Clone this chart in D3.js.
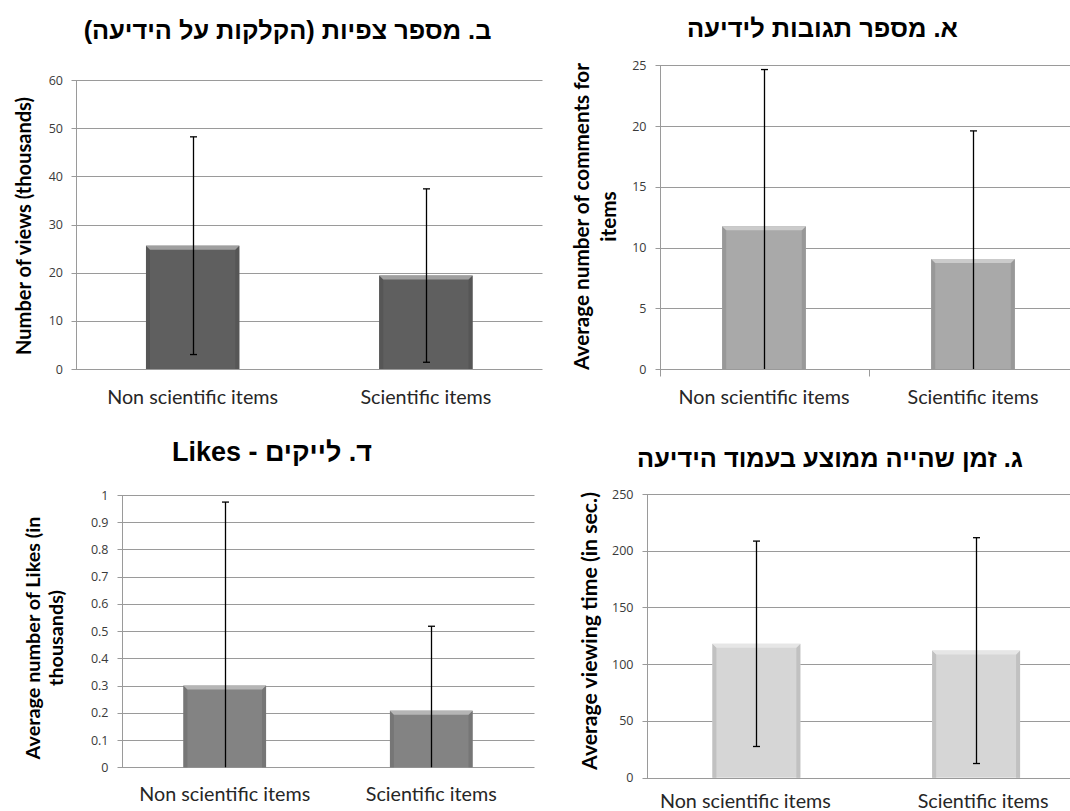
<!DOCTYPE html>
<html><head><meta charset="utf-8">
<script src="https://cdn.jsdelivr.net/npm/d3@7"></script>
<style>body{margin:0;background:#fff} svg{display:block}</style>
</head><body>
<svg id="c" width="1070" height="811"></svg>
<script>
// ---------- data ----------
const categories = ["Non scientific items", "Scientific items"];
const viewsMean = [25.6, 19.4];
const viewsErr = [22.6, 18.0];
const commentsMean = [11.75, 9.05];
const commentsErr = [12.9, 10.55];
const likesMean = [0.30, 0.208];
const likesErr = [0.674, 0.31];
const timeMean = [118, 112];
const timeErr = [90.5, 99.5];
const viewsTicks = [0, 10, 20, 30, 40, 50, 60];
const commentsTicks = [0, 5, 10, 15, 20, 25];
const likesTicks = [0, 0.1, 0.2, 0.3, 0.4, 0.5, 0.6, 0.7, 0.8, 0.9, 1];
const timeTicks = [0, 50, 100, 150, 200, 250];
const titleViews = "ב. מספר צפיות (הקלקות על הידיעה)";
const titleComments = "א. מספר תגובות לידיעה";
const titleLikes = "ד. לייקים - Likes";
const titleTime = "ג. זמן שהייה ממוצע בעמוד הידיעה";
const yTitleViews = ["Number of views (thousands)"];
const yTitleComments = ["Average number of comments for", "items"];
const yTitleLikes = ["Average number of Likes (in", "thousands)"];
const yTitleTime = ["Average viewing time (in sec.)"];

// ---------- layout ----------
const svg = d3.select("#c");
const LATIN = "Lato, 'Open Sans', 'Liberation Sans', sans-serif";
const TICKF = "'Open Sans', Lato, sans-serif";
const HEB = "'Liberation Sans', 'DejaVu Sans', Arial, sans-serif";

function fit(sel, target, base) {
  sel.attr("font-size", base);
  const w = sel.node().getComputedTextLength();
  const s = base * target / w;
  sel.attr("font-size", s);
  return s;
}

const panels = [
  { mean: viewsMean, err: viewsErr, ticks: viewsTicks, yMax: 60, fmt: d3.format("d"),
    color: "#5f5f5f", left: 76, right: 542.5, gridRight: 542.5, yTop: 80, yBottom: 369,
    title: titleViews, titleX: 287.5, titleY: 39, titleW: 408,
    yTitle: yTitleViews, yTitleX: [31], yTitleCY: 226, yTitleW: 258,
    labelY: 404, labelW: 171, labelDx: [0, 0], xTicks: false },
  { mean: commentsMean, err: commentsErr, ticks: commentsTicks, yMax: 25, fmt: d3.format("d"),
    color: "#a9a9a9", left: 659.5, right: 1077.5, gridRight: 1070, yTop: 65.3, yBottom: 369,
    title: titleComments, titleX: 822.5, titleY: 37, titleW: 271,
    yTitle: yTitleComments, yTitleX: [589, 616], yTitleCY: 216.5, yTitleW: 307,
    labelY: 404, labelW: 171, labelDx: [0, 0], xTicks: true },
  { mean: likesMean, err: likesErr, ticks: likesTicks, yMax: 1, fmt: d => d3.format("")(+d.toFixed(1)),
    color: "#838383", left: 121.5, right: 534.5, gridRight: 534.5, yTop: 495, yBottom: 767.3,
    title: titleLikes, titleX: 272, titleY: 460.7, titleW: 200,
    yTitle: yTitleLikes, yTitleX: [40, 63], yTitleCY: 638, yTitleW: 243,
    labelY: 801, labelW: 171, labelDx: [0, 0], xTicks: false },
  { mean: timeMean, err: timeErr, ticks: timeTicks, yMax: 250, fmt: d3.format("d"),
    color: "#d6d6d6", left: 646.5, right: 1086, gridRight: 1070, yTop: 494, yBottom: 777.7,
    title: titleTime, titleX: 830, titleY: 466.7, titleW: 386,
    yTitle: yTitleTime, yTitleX: [597], yTitleCY: 631, yTitleW: 278,
    labelY: 807.5, labelW: 171, labelDx: [-11, 7], xTicks: false }
];

function bevelBar(g, x0, y0, w, h, color) {
  const light = d3.interpolateRgb(color, "#ffffff")(0.4);
  const dark = d3.interpolateRgb(color, "#000000")(0.1);
  const b = Math.min(4, h / 2);
  g.append("rect").attr("x", x0).attr("y", y0).attr("width", w).attr("height", h).attr("fill", color);
  g.append("polygon").attr("fill", dark)
    .attr("points", [[x0, y0], [x0 + b, y0 + b], [x0 + b, y0 + h], [x0, y0 + h]].join(" "));
  g.append("polygon").attr("fill", dark)
    .attr("points", [[x0 + w, y0], [x0 + w - b, y0 + b], [x0 + w - b, y0 + h], [x0 + w, y0 + h]].join(" "));
  g.append("polygon").attr("fill", light)
    .attr("points", [[x0, y0], [x0 + w, y0], [x0 + w - b, y0 + b], [x0 + b, y0 + b]].join(" "));
}

panels.forEach(p => {
  const g = svg.append("g");
  const x = d3.scaleBand().domain(categories).range([p.left, p.right]).paddingInner(0.6).paddingOuter(0.3);
  const y = d3.scaleLinear().domain([0, p.yMax]).range([p.yBottom, p.yTop]);
  const L = Math.round(p.left) + 0.5;

  // grid lines
  g.selectAll("line.grid").data(p.ticks).join("line")
    .attr("x1", L - 5).attr("x2", p.gridRight)
    .attr("y1", d => Math.round(y(d)) + 0.5).attr("y2", d => Math.round(y(d)) + 0.5)
    .attr("stroke", "#9a9a9a").attr("stroke-width", 1);
  // y axis line
  g.append("line").attr("x1", L).attr("x2", L)
    .attr("y1", Math.round(y(p.yMax)) + 0.5).attr("y2", Math.round(y(0)) + 0.5 + (p.xTicks ? 7 : 0))
    .attr("stroke", "#9a9a9a");
  if (p.xTicks) {
    const mid = Math.round((x(categories[0]) + x.bandwidth() + x(categories[1])) / 2) + 0.5;
    g.append("line").attr("x1", mid).attr("x2", mid)
      .attr("y1", Math.round(y(0)) + 0.5).attr("y2", Math.round(y(0)) + 7.5).attr("stroke", "#9a9a9a");
  }
  // tick labels via axis
  const ax = g.append("g").attr("transform", `translate(${p.left},0)`)
    .call(d3.axisLeft(y).tickValues(p.ticks).tickFormat(p.fmt).tickSize(0).tickPadding(13));
  ax.select(".domain").remove();
  ax.selectAll("text").attr("font-family", TICKF).attr("font-size", 12.5).attr("fill", "#3a3a3a");

  // bars
  p.mean.forEach((m, i) => {
    const bx = x(categories[i]);
    const top = y(m), h = y(0) - top;
    bevelBar(g, bx, top, x.bandwidth(), h, p.color);
  });
  // error bars
  p.mean.forEach((m, i) => {
    const cx = Math.round(x(categories[i]) + x.bandwidth() / 2) + 0.5;
    const hi = m + p.err[i], lo = Math.max(0, m - p.err[i]);
    g.append("line").attr("x1", cx).attr("x2", cx).attr("y1", y(hi)).attr("y2", y(lo))
      .attr("stroke", "#000").attr("stroke-width", 1.3);
    g.append("line").attr("x1", cx - 3.5).attr("x2", cx + 3.5).attr("y1", y(hi)).attr("y2", y(hi))
      .attr("stroke", "#000").attr("stroke-width", 1.3);
    if (m - p.err[i] > 0) {
      g.append("line").attr("x1", cx - 3.5).attr("x2", cx + 3.5).attr("y1", y(lo)).attr("y2", y(lo))
        .attr("stroke", "#000").attr("stroke-width", 1.3);
    }
  });
  // category labels
  const labs = categories.map((c, i) => g.append("text")
    .attr("x", x(c) + x.bandwidth() / 2 + p.labelDx[i]).attr("y", p.labelY)
    .attr("text-anchor", "middle").attr("font-family", LATIN).attr("fill", "#262626").text(c));
  const ls = fit(labs[0], p.labelW, 16);
  labs[1].attr("font-size", ls);

  // y title
  let ys = null;
  p.yTitle.forEach((t, i) => {
    const tt = g.append("text")
      .attr("transform", `translate(${p.yTitleX[i]},${p.yTitleCY}) rotate(-90)`)
      .attr("text-anchor", "middle").attr("font-family", LATIN).attr("font-weight", "bold")
      .attr("fill", "#000").text(t);
    if (i === 0) ys = fit(tt, p.yTitleW, 16); else tt.attr("font-size", ys);
  });

  // chart title
  const ti = g.append("text").attr("x", p.titleX).attr("y", p.titleY)
    .attr("text-anchor", "middle").attr("direction", "rtl")
    .attr("font-family", HEB).attr("font-weight", "bold").attr("fill", "#000").text(p.title);
  fit(ti, p.titleW, 22);
});
</script>
</body></html>
